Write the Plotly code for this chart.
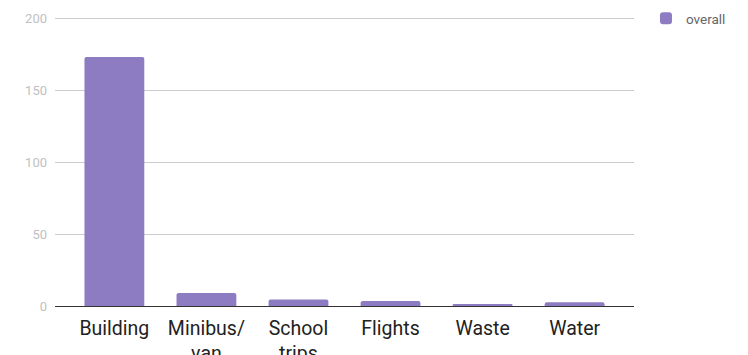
import plotly.graph_objects as go

categories = ["Building", "Minibus/<br>van", "School<br>trips", "Flights", "Waste", "Water"]
values = [173.5, 9, 4.5, 3.5, 1.2, 2.6]
series_name = "overall"
y_ticks = [0, 50, 100, 150, 200]

fig = go.Figure()
fig.add_trace(go.Bar(
    x=list(range(len(categories))), y=values, name=series_name,
    marker=dict(color="#8e7cc3", line=dict(width=0), cornerradius=2),
    width=0.65, showlegend=True,
))
fig.update_layout(
    width=748, height=355,
    margin=dict(l=55, r=114, t=16, b=49, autoexpand=False),
    paper_bgcolor="white", plot_bgcolor="white",
    font=dict(family="Roboto", color="#222"),
    xaxis=dict(
        range=[-0.645, 5.645], tickmode="array",
        tickvals=list(range(len(categories))), ticktext=categories,
        tickfont=dict(size=19.5, color="#222"), showgrid=False, zeroline=False,
        ticks="", showline=False, automargin=False, ticklabelstandoff=8,
    ),
    yaxis=dict(
        range=[0, 202], tickvals=y_ticks, gridcolor="#cccccc", gridwidth=1,
        tickfont=dict(size=13, color="#c0c0c0"), zeroline=True,
        zerolinecolor="#333333", zerolinewidth=1, ticks="", ticklabelstandoff=7,
        automargin=False,
    ),
    legend=dict(xref="container", yref="container", x=0.8636, y=0.9915,
                xanchor="left", yanchor="top",
                font=dict(size=13.5, color="#666"), bgcolor="rgba(0,0,0,0)"),
    showlegend=True,
)
fig.write_html("out.html")
